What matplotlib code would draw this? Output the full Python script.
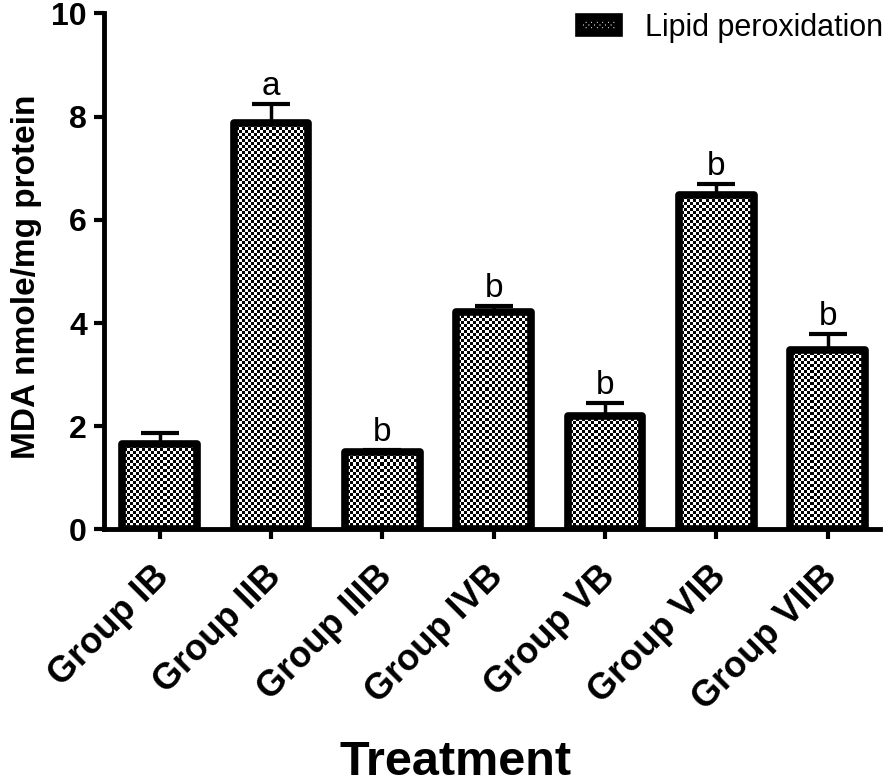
import matplotlib
matplotlib.use('Agg')
import matplotlib.pyplot as plt
import matplotlib.transforms as mtransforms
from matplotlib.patches import Patch
import numpy as np

groups = ['Group IB', 'Group IIB', 'Group IIIB', 'Group IVB', 'Group VB', 'Group VIB', 'Group VIIB']
mda = [1.66, 7.88, 1.50, 4.21, 2.19, 6.49, 3.48]
sem = [0.20, 0.36, 0.04, 0.12, 0.26, 0.20, 0.30]
letters = ['', 'a', 'b', 'b', 'b', 'b', 'b']

plt.rcParams['font.family'] = ['Liberation Sans', 'DejaVu Sans']
plt.rcParams['hatch.linewidth'] = 2.0

fig = plt.figure(figsize=(8.88, 7.8), dpi=100)
ax = fig.add_axes([0.1166, 0.3212, 0.8744, 0.6615])
ax.set_xlim(-0.505, 6.47)
ax.set_ylim(0, 10)

x = np.arange(len(groups))
bars = ax.bar(x, mda, width=0.67, facecolor='none', edgecolor='black', linewidth=5.5,
              joinstyle='round', zorder=3)

# checkerboard fill (3 px squares), clipped to each bar
ncol, nrow = 776 // 3, 516 // 3
checker = np.indices((nrow, ncol)).sum(axis=0) % 2
for b in bars:
    im = ax.imshow(checker, cmap='gray', interpolation='nearest', aspect='auto',
                   extent=(-0.505, 6.47, 0, 10), zorder=2)
    im.set_clip_path(b)

ax.errorbar(x, mda, yerr=[np.zeros(len(sem)), sem], fmt='none', ecolor='black',
            elinewidth=2.5, capsize=14, capthick=3, zorder=1)

for xi, v, e, t in zip(x, mda, sem, letters):
    if t:
        ax.annotate(t, (xi, v + e), xytext=(0, 1.5), textcoords='offset points',
                    ha='center', va='bottom', fontsize=24)

for s in ['top', 'right']:
    ax.spines[s].set_visible(False)
for s in ['left', 'bottom']:
    ax.spines[s].set_linewidth(3.5)
    ax.spines[s].set_zorder(4)
ax.tick_params(axis='both', direction='out', length=7, width=3, pad=5)
ax.tick_params(axis='x', pad=14)

ax.set_yticks([0, 2, 4, 6, 8, 10])
ax.set_xticks(x)
ax.set_xticklabels(groups, rotation=45, ha='right', va='top', rotation_mode='anchor',
                   fontsize=26, fontweight='bold')
offset = mtransforms.ScaledTranslation(-8 / 100, 0, fig.dpi_scale_trans)
for lab in ax.get_xticklabels():
    lab.set_transform(lab.get_transform() + offset)
for lab in ax.get_yticklabels():
    lab.set_fontsize(23)
    lab.set_fontweight('bold')

ax.set_ylabel('MDA nmole/mg protein', fontsize=24, fontweight='bold')
ax.yaxis.set_label_coords(-0.0795, 0.49)
fig.text(456 / 888, 1 - 775 / 780, 'Treatment', ha='center', va='baseline',
         fontsize=35, fontweight='bold')

handle = Patch(facecolor='white', edgecolor='black', linewidth=5.5, hatch='xxxxxx',
               joinstyle='round')
ax.legend([handle], ['Lipid peroxidation'], loc='upper right',
          bbox_to_anchor=(883 / 888, 1 - 13 / 780),
          bbox_transform=fig.transFigure, frameon=False, fontsize=22,
          handlelength=1.32, handleheight=0.41, handletextpad=0.85,
          borderpad=0, borderaxespad=0)

fig.savefig('out.png', dpi=100)
